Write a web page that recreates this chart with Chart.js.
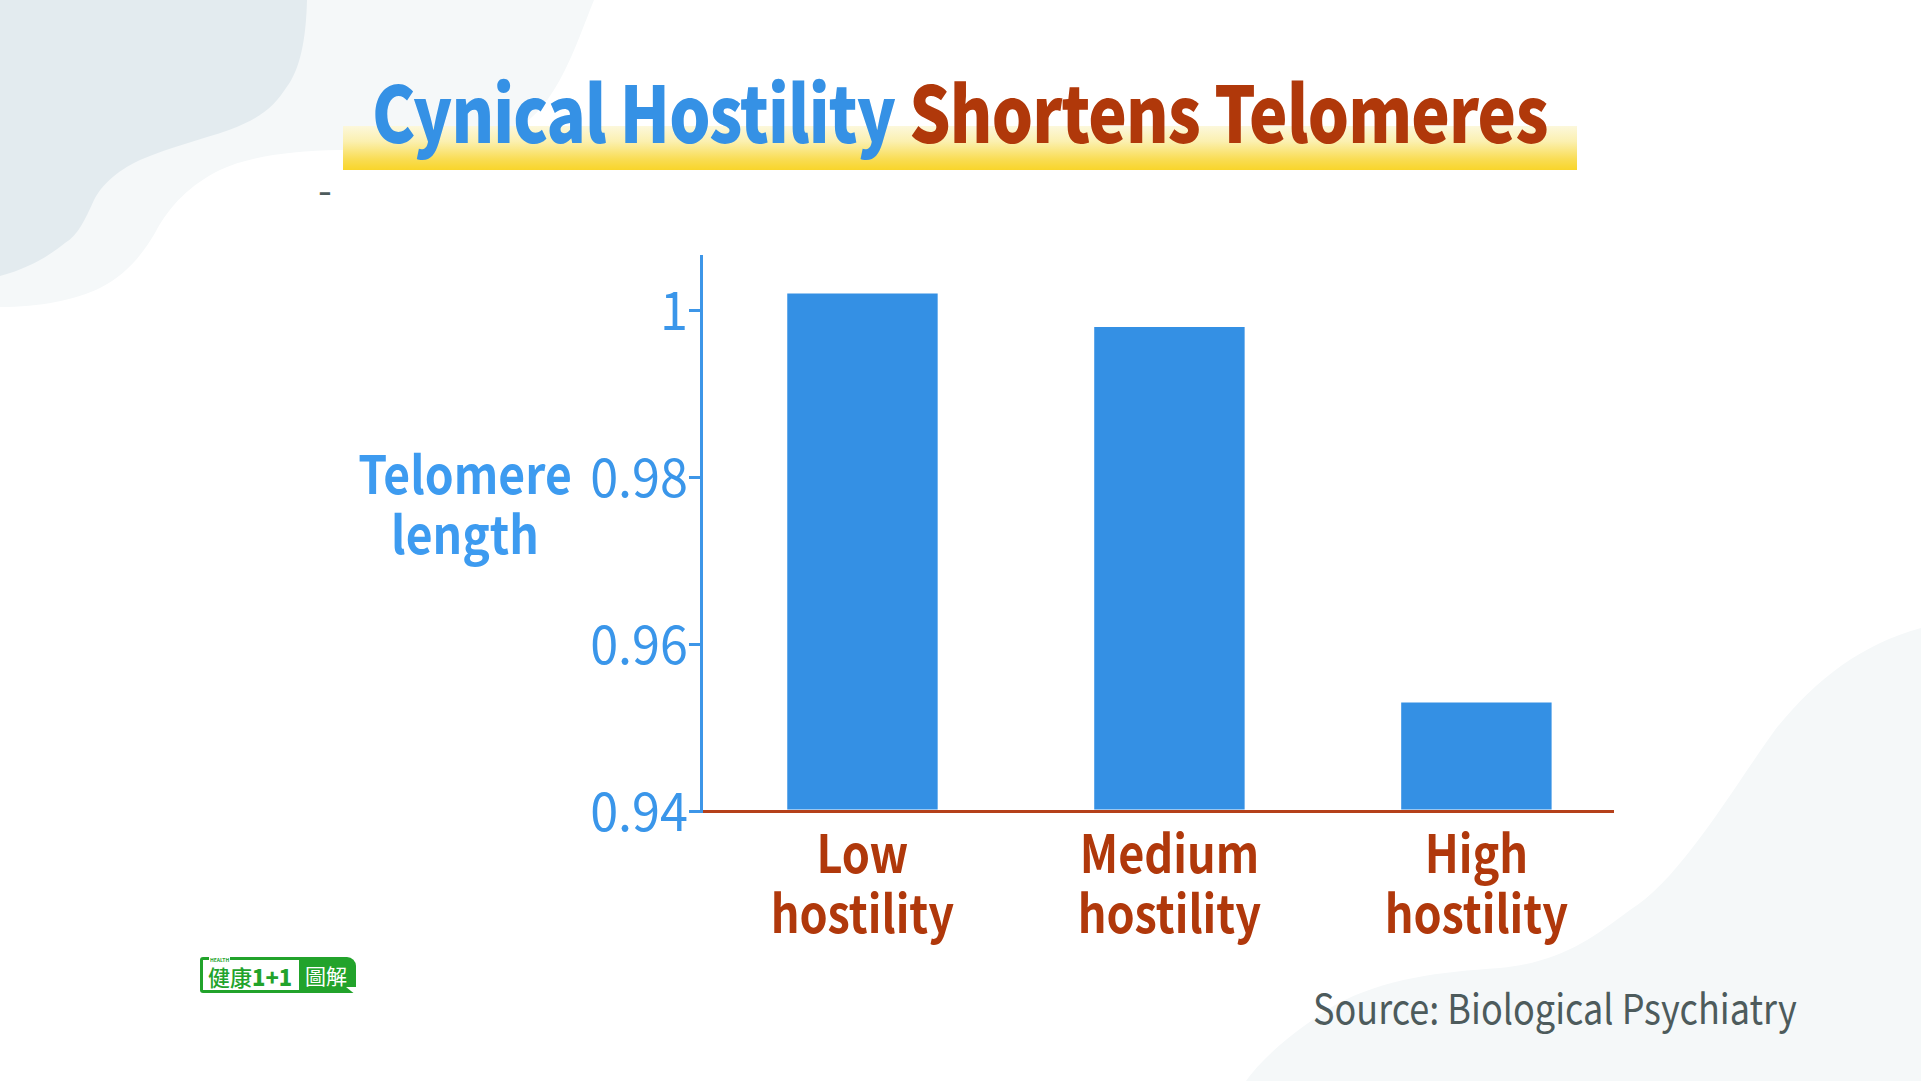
<!DOCTYPE html>
<html><head><meta charset="utf-8">
<script src="https://cdn.jsdelivr.net/npm/chart.js@4"></script>
<style>
html,body{margin:0;padding:0;width:1921px;height:1081px;overflow:hidden;background:#fff;font-family:"Noto Sans CJK TC","Noto Sans",sans-serif;}
#bg{position:absolute;left:0;top:0}
#chart{position:absolute;left:0;top:0}
.t{position:absolute;white-space:nowrap;line-height:1}
</style></head><body>
<svg id="bg" width="1921" height="1081">
 <path d="M0 0 L594 0 C584 25 575 50 565 70 C550 100 535 120 505 136 C480 148 430 150 340 150 C290 151 250 156 220 170 C190 185 170 205 155 233 C140 258 125 275 100 288 C75 300 40 307 0 307 Z" fill="#f5f8f9"/>
 <path d="M0 0 L307 0 C306 40 300 70 286 88 C275 105 262 118 229 130 C200 140 170 147 140 160 C115 172 102 185 94 200 C85 220 78 235 65 243 C50 255 30 268 0 276 Z" fill="#e3ebef"/>
 <path d="M1921 628 C1860 645 1815 680 1775 730 C1735 785 1680 880 1630 910 C1590 940 1560 962 1500 968 C1440 972 1385 978 1335 1005 C1295 1030 1262 1058 1246 1081 L1921 1081 Z" fill="#f5f8f9"/>
</svg>
<div style="position:absolute;left:343px;top:126px;width:1234px;height:44px;background:linear-gradient(to bottom,#fcf8dc 0%,#fbf0b0 35%,#f9dd55 75%,#f9d52a 100%);"></div>
<div class="t" id="title" style="left:372px;top:70px;font-size:78px;font-weight:900;letter-spacing:-1px;transform:scaleX(0.832);transform-origin:0 0;"><span style="color:#3591e5">Cynical Hostility</span> <span style="color:#b0380a">Shortens Telomeres</span></div>
<div class="t" style="left:318px;top:168px;font-size:40px;color:#4d5b5c">-</div>
<div class="t" style="left:315px;top:442px;width:300px;text-align:center;font-size:52px;line-height:60px;font-weight:bold;color:#3d9bf0;white-space:normal;transform:scaleX(0.89);transform-origin:150px 0">Telomere<br>length</div>
<div class="t" style="left:1313px;top:986px;font-size:41px;color:#4d5b5c;transform:scaleX(0.879);transform-origin:0 0">Source: Biological Psychiatry</div>
<div id="logo" style="position:absolute;left:200px;top:957px;width:156px;height:36px;background:#22a32b;border-radius:3px 9px 3px 3px;">
  <div style="position:absolute;left:3px;top:3px;width:96px;height:30px;background:#fff;"></div>
  <div class="t" style="left:8px;top:8px;font-size:22px;color:#22a32b;font-weight:500">健康<b style="font-weight:900">1+1</b></div>
  <div class="t" style="left:105px;top:8px;font-size:21px;color:#fff">圖解</div>
  <div class="t" style="left:9px;top:0px;font-size:5px;color:#22a32b;background:#fff;padding:0 1px;font-weight:bold">HEALTH</div>
  <div style="position:absolute;left:146px;top:30px;width:0;height:0;border-left:10px solid transparent;border-top:8px solid #fff;"></div>
</div>
<canvas id="chart" width="1921" height="1081"></canvas>
<script>
const categories = [["Low", "hostility"], ["Medium", "hostility"], ["High", "hostility"]];
const telomereLength = [1.002, 0.998, 0.953];
const yTicks = [0.94, 0.96, 0.98, 1];
const yMin = 0.94, yMax = 1.0065;
const xMin = -0.526, xMax = 2.445;

// draw a scale's own tick labels, horizontally condensed about each label's anchor
function condense(scale, sx) {
  scale.drawLabels = function (chartArea) {
    const ctx = this.ctx;
    const items = this.getLabelItems(chartArea);
    for (const item of items) {
      const o = item.options;
      const lines = Array.isArray(item.label) ? item.label : [item.label];
      ctx.save();
      ctx.translate(o.translation[0], o.translation[1]);
      if (o.rotation) ctx.rotate(o.rotation);
      ctx.scale(sx, 1);
      ctx.font = item.font.string;
      ctx.fillStyle = o.color;
      ctx.textAlign = o.textAlign;
      ctx.textBaseline = o.textBaseline;
      lines.forEach((ln, k) => ctx.fillText(ln, 0, item.textOffset + k * item.font.lineHeight));
      ctx.restore();
    }
  };
}

Chart.defaults.font.family = '"Noto Sans CJK TC", "Noto Sans", sans-serif';
new Chart(document.getElementById('chart'), {
  type: 'bar',
  data: {
    datasets: [{
      data: telomereLength.map((v, i) => ({ x: i, y: v })),
      backgroundColor: '#3490e4',
      base: yMin,
      categoryPercentage: 1,
      barPercentage: 0.49,
      borderWidth: 0
    }]
  },
  options: {
    responsive: false,
    animation: false,
    devicePixelRatio: 1,
    layout: { padding: { left: 541, right: 308, top: 256, bottom: 81 } },
    plugins: { legend: { display: false }, tooltip: { enabled: false } },
    scales: {
      x: {
        type: 'linear', min: xMin, max: xMax, offset: false, z: 1,
        grid: { display: false, drawTicks: false, offset: false },
        border: { display: true, color: '#b5401a', width: 3 },
        afterBuildTicks: s => { s.ticks = categories.map((c, i) => ({ value: i })); },
        ticks: {
          callback: (v) => categories[v],
          color: '#b0380b',
          font: { size: 52, weight: 'bold', lineHeight: 1.154 },
          padding: 12, maxRotation: 0, autoSkip: false
        },
        afterFit: s => { s.height = 189; condense(s, 0.866); }
      },
      y: {
        min: yMin, max: yMax,
        afterBuildTicks: s => { s.ticks = yTicks.map(v => ({ value: v })); },
        ticks: {
          callback: v => (v === 1 ? '1' : v.toFixed(2)),
          color: '#3a96ea', font: { size: 53 }, padding: 1, autoSkip: false
        },
        grid: { display: true, drawOnChartArea: false, drawTicks: true, tickLength: 12, color: '#3d96e8', lineWidth: 3 },
        border: { display: true, color: '#3d96e8', width: 3 },
        afterFit: s => { s.width = 160; condense(s, 0.95); }
      }
    }
  }
});
</script>
</body></html>
